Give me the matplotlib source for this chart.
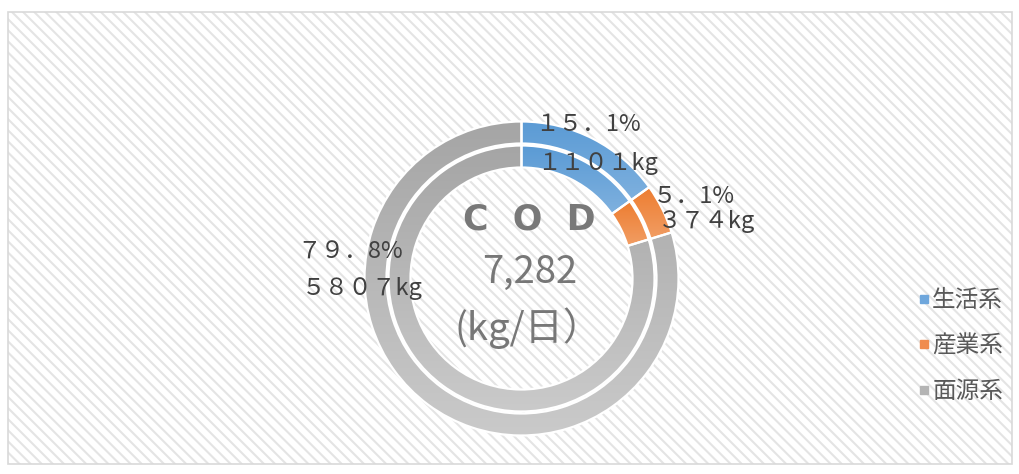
import matplotlib
matplotlib.use("Agg")
import matplotlib.pyplot as plt
import numpy as np
from matplotlib.colors import LinearSegmentedColormap
from matplotlib.patches import Rectangle
from matplotlib.lines import Line2D

plt.rcParams['font.family'] = ['Noto Sans CJK JP', 'DejaVu Sans']
plt.rcParams['hatch.linewidth'] = 1.5

# ---- data ----
categories = ['生活系', '産業系', '面源系']
values_kg = [1101, 374, 5807]
percents = [15.1, 5.1, 79.8]
total_label = '7,282'
unit_label = '(kg/日）'
title_label = 'C  O  D'

# colours (top, bottom of gradient) and legend colours
grad_colors = [('#5B9BD5', '#A2C6E8'), ('#ED7D31', '#F5B68A'), ('#A5A5A5', '#CACACA')]
legend_colors = ['#6FA7DC', '#F08C4E', '#B4B4B4']

W, H = 1020, 474
fig = plt.figure(figsize=(W / 100, H / 100), dpi=100)
ax = fig.add_axes([0, 0, 1, 1])

def Y(y):
    return H - y

# background: hatched plot area with light border
ax.add_patch(Rectangle((8, Y(464)), 1004, 452, facecolor='white', edgecolor='#E4E4E4',
                       hatch='\\\\\\', linewidth=0, zorder=0))
ax.add_patch(Rectangle((8, Y(464)), 1004, 452, facecolor='none', edgecolor='#D9D9D9',
                       linewidth=1.2, zorder=0.5))

cx, cy = 521.5, Y(278.5)
rings = [(157, 22), (133, 22)]

for radius, width in rings:
    wedges, _ = ax.pie(values_kg, radius=radius, center=(cx, cy), startangle=90,
                       counterclock=False, frame=True,
                       wedgeprops=dict(width=width, edgecolor='white', linewidth=1.6))
    for wdg, (c_top, c_bot) in zip(wedges, grad_colors):
        verts = wdg.get_path().vertices
        x0, x1 = verts[:, 0].min(), verts[:, 0].max()
        y0, y1 = verts[:, 1].min(), verts[:, 1].max()
        cmap = LinearSegmentedColormap.from_list('g', [c_bot, c_top])
        grad = np.linspace(0, 1, 256).reshape(-1, 1)
        im = ax.imshow(grad, extent=(x0, x1, y0, y1), origin='lower', cmap=cmap,
                       aspect='auto', zorder=1, interpolation='bilinear')
        im.set_clip_path(wdg)
        wdg.set_facecolor('none')
        wdg.set_zorder(2)

# data labels
fw = str.maketrans('0123456789.', '０１２３４５６７８９．')

def pct_text(p):
    s = f"{p:.1f}"
    ip, dp = s.split('.')
    return ip.translate(fw) + '．' + dp + '%'

label_pos = [((535, 124), (537, 163)), ((653, 196), (658, 221)), ((297, 252), (302, 289))]
lab_color = '#404040'
for (p, v, ((px, py), (kx, ky))) in zip(percents, values_kg, label_pos):
    ax.text(px, Y(py), pct_text(p), fontsize=17, color=lab_color, ha='left', va='center', zorder=5)
    ax.text(kx, Y(ky), str(v).translate(fw) + 'kg', fontsize=17, color=lab_color,
            ha='left', va='center', zorder=5)

# centre text
ax.text(529.5, Y(229), title_label, fontsize=25, fontweight='bold', color='#787878',
        family='DejaVu Sans', ha='center', va='baseline', zorder=5)
ax.text(530, Y(283), total_label, fontsize=27.5, color='#777777', ha='center', va='baseline', zorder=5)
ax.text(528, Y(340), unit_label, fontsize=27.5, color='#777777', ha='center', va='baseline', zorder=5)

# legend
handles = [Line2D([], [], marker='s', linestyle='', markersize=5.5, color=c) for c in legend_colors]
leg = ax.legend(handles, categories, loc='center left', bbox_to_anchor=(905 / W, 1 - 346 / H),
                frameon=False, fontsize=17, labelspacing=0.95, handlelength=0.6,
                handletextpad=0.05, borderpad=0)
for t in leg.get_texts():
    t.set_color('#595959')

ax.set_xlim(0, W)
ax.set_ylim(0, H)
ax.axis('off')

fig.savefig('out.png', dpi=100, facecolor='white')
